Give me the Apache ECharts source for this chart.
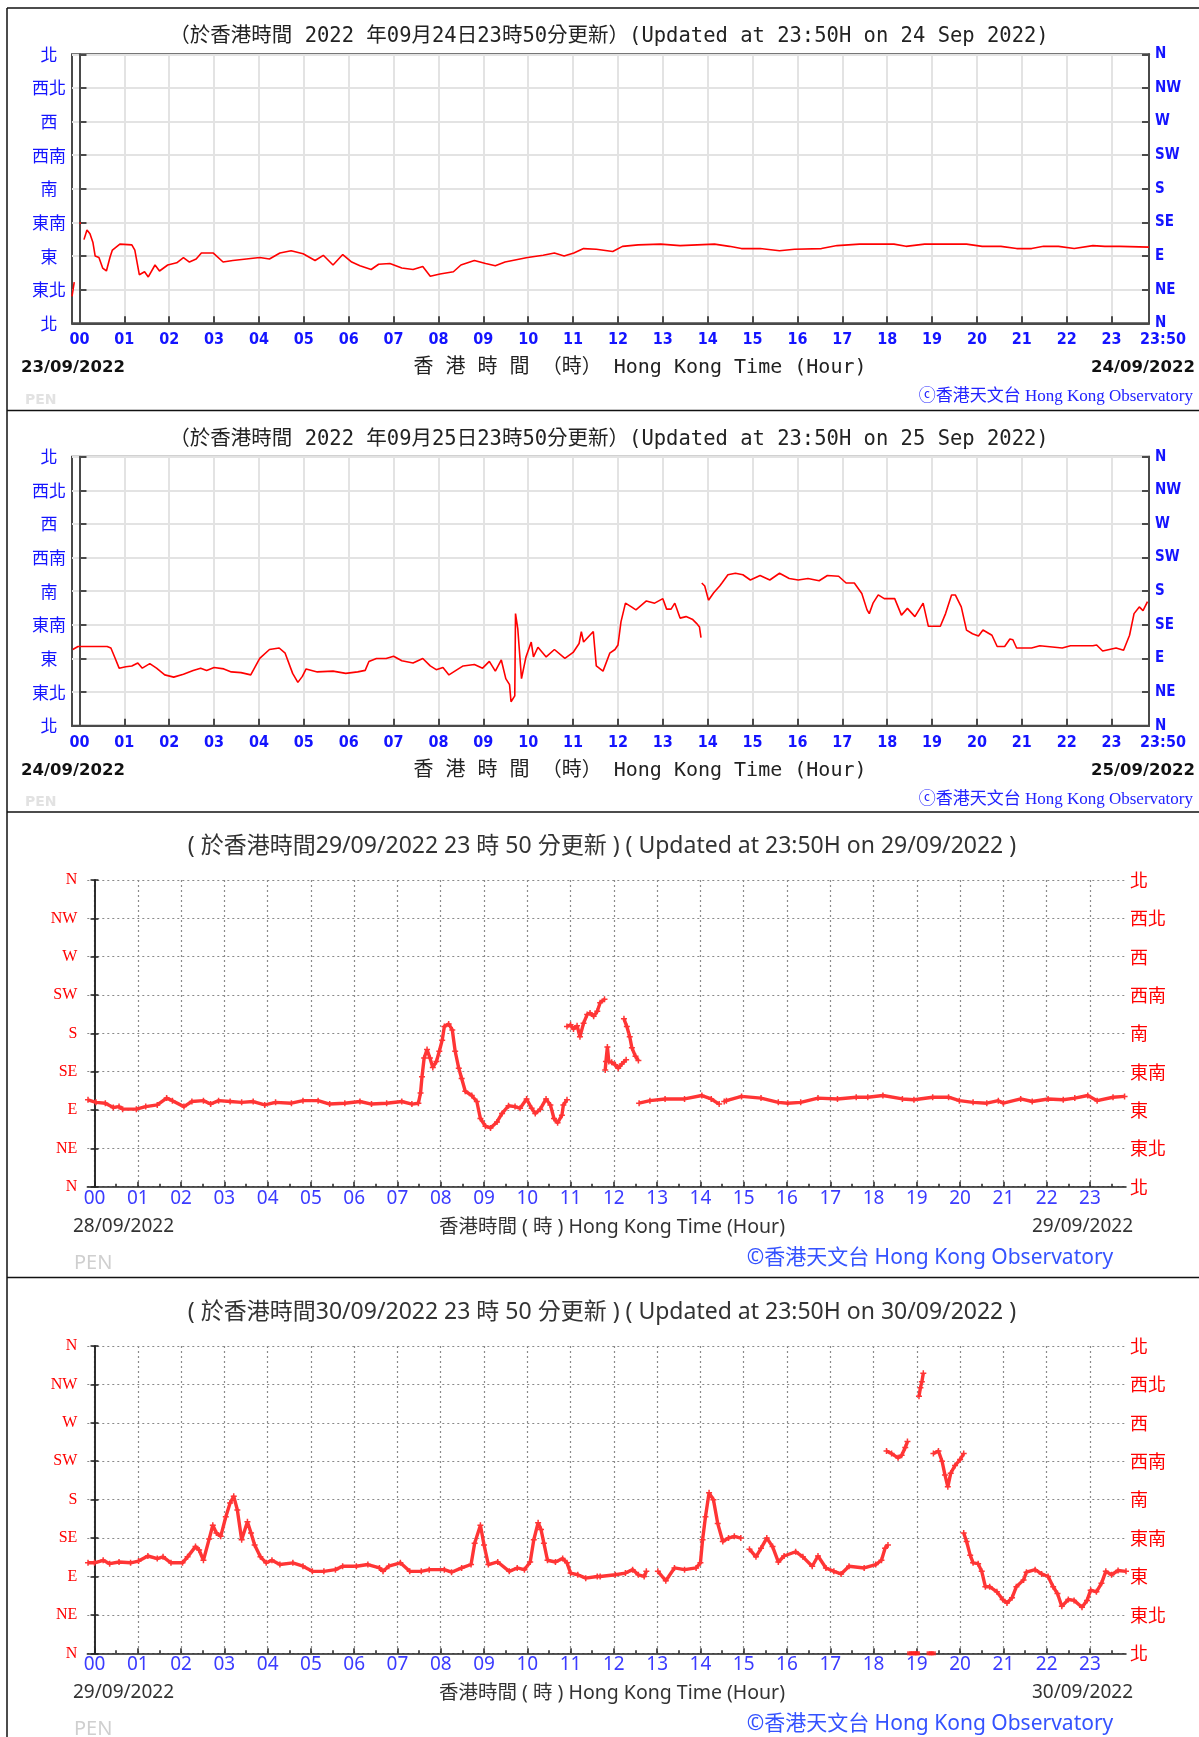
<!DOCTYPE html>
<html><head><meta charset="utf-8">
<script src="https://cdn.jsdelivr.net/npm/echarts/dist/echarts.min.js"></script>
<style>html,body{margin:0;padding:0;background:#fff}#c{width:1199px;height:1737px}</style>
</head><body><div id="c"></div><script>
// ---------- DATA ----------
const hourLabels = ['00','01','02','03','04','05','06','07','08','09','10','11','12','13','14','15','16','17','18','19','20','21','22','23'];
const hourTicks = [0,60,120,180,240,300,360,420,480,540,600,660,720,780,840,900,960,1020,1080,1140,1200,1260,1320,1380];
const halfTicks = [30,90,150,210,270,330,390,450,510,570,630,690,750,810,870,930,990,1050,1110,1170,1230,1290,1350,1410];
const dirEn = ['N','NE','E','SE','S','SW','W','NW','N'];
const dirZh = ['北','東北','東','東南','南','西南','西','西北','北'];

// [minute of day, direction in degrees]; null = no data
const wind0924 = [[-10,36],[-7,55],[-5,null],[0,134],[2,134],[4,null],[6,112],[10,125],[14,120],[18,108],[21,90],[26,88],[31,74],[36,70],[41,89],[44,98],[54,106],[70,105],[74,98],[80,65],[87,69],[92,62],[101,78],[107,70],[118,78],[130,81],[139,88],[147,82],[156,86],[163,94],[179,94],[192,82],[205,84],[223,86],[241,88],[254,86],[268,94],[283,97],[299,93],[315,84],[326,91],[339,78],[352,92],[364,82],[375,77],[390,72],[400,79],[415,80],[431,74],[446,72],[459,76],[469,63],[482,66],[500,69],[510,78],[528,84],[543,80],[556,77],[569,82],[584,85],[599,88],[620,91],[635,94],[648,90],[661,94],[674,100],[691,99],[713,96],[726,103],[747,105],[777,106],[803,104],[849,106],[869,103],[885,100],[910,100],[936,97],[956,99],[992,100],[1013,104],[1043,106],[1089,106],[1105,103],[1130,106],[1156,106],[1186,106],[1207,103],[1232,103],[1253,100],[1273,100],[1289,103],[1309,103],[1330,100],[1355,104],[1371,103],[1391,103],[1430,102]];

const wind0925 = [[-9,102],[-2,106],[37,106],[42,104],[47,92],[53,77],[62,79],[70,80],[78,84],[84,77],[94,83],[103,77],[114,68],[126,65],[139,69],[152,74],[162,77],[170,74],[180,78],[193,76],[203,72],[216,71],[229,68],[235,79],[241,90],[254,102],[267,104],[275,97],[285,70],[292,58],[298,66],[303,76],[318,72],[339,73],[356,70],[372,72],[382,74],[387,86],[397,90],[410,90],[420,93],[431,87],[446,84],[459,90],[469,80],[477,75],[486,78],[494,68],[505,75],[513,80],[528,82],[539,77],[548,86],[556,73],[564,88],[570,63],[575,55],[577,32],[582,40],[583,150],[586,130],[591,63],[597,92],[604,112],[607,92],[613,105],[624,92],[635,102],[649,90],[660,98],[668,110],[671,126],[674,112],[687,126],[689,103],[691,80],[700,73],[709,97],[716,102],[720,108],[724,139],[730,164],[738,159],[744,155],[758,167],[769,164],[780,170],[785,156],[791,156],[796,164],[803,144],[811,146],[820,142],[825,137],[829,132],[831,118],[831.5,null],[832,191],[836,187],[841,168],[848,178],[856,187],[859,191],[867,202],[877,204],[887,202],[897,195],[910,201],[923,195],[936,204],[949,197],[961,195],[974,197],[989,194],[1000,201],[1015,200],[1025,191],[1036,191],[1046,177],[1053,155],[1056,150],[1061,164],[1068,175],[1076,170],[1090,170],[1099,148],[1107,157],[1117,146],[1128,164],[1135,133],[1151,133],[1158,150],[1166,175],[1171,175],[1179,159],[1186,128],[1194,123],[1202,120],[1208,128],[1220,121],[1227,106],[1237,106],[1244,116],[1248,115],[1253,104],[1273,104],[1284,107],[1314,104],[1325,107],[1355,107],[1360,108],[1368,100],[1386,104],[1396,101],[1404,121],[1410,150],[1417,159],[1422,154],[1428,166]];

const wind0929 = [[-9,102],[2,99],[15,98],[26,93],[34,94],[39,91],[58,91],[71,94],[87,96],[100,104],[108,101],[124,94],[135,100],[151,101],[161,97],[172,101],[188,100],[204,99],[220,100],[236,96],[251,99],[273,98],[289,101],[310,101],[326,97],[347,98],[368,100],[384,97],[405,98],[426,100],[440,97],[449,98],[452,110],[454,129],[457,151],[461,161],[465,151],[469,140],[474,147],[478,159],[482,172],[485,188],[491,191],[496,184],[500,159],[505,139],[509,127],[514,112],[523,107],[530,100],[535,80],[542,71],[549,69],[558,76],[565,86],[574,95],[583,94],[590,92],[599,103],[606,92],[611,86],[618,91],[626,103],[632,96],[637,80],[642,75],[648,84],[650,96],[655,102],[655.5,null],
 [655,188],[660,190],[664,185],[669,189],[673,176],[678,192],[683,202],[687,204],[692,200],[697,206],[701,216],[707,220],[707.5,null],
 [708,137],[709,147],[711,164],[713,147],[717,146],[722,143],[726,139],[731,144],[737,149],[737.5,null],
 [734,197],[738,188],[742,176],[745,163],[750,153],[754,148],[754.5,null],
 [755,98],[770,101],[791,103],[818,103],[842,107],[855,103],[866,97],[869,null],[873,100],[876,101],[897,106],[924,104],[948,99],[961,98],[979,99],[1003,104],[1030,103],[1056,105],[1072,105],[1093,107],[1120,103],[1136,102],[1162,105],[1184,105],[1199,101],[1218,99],[1237,98],[1253,101],[1260,98],[1284,103],[1300,100],[1322,103],[1343,102],[1359,104],[1377,107],[1390,101],[1412,105],[1428,106]];

const wind0930 = [[-9,106],[0,106],[12,109],[21,105],[34,107],[50,106],[61,108],[74,114],[87,111],[95,113],[106,106],[122,106],[129,113],[140,125],[145,121],[151,109],[159,134],[164,150],[169,141],[175,137],[182,160],[188,176],[193,184],[198,168],[204,133],[212,154],[217,141],[222,127],[230,113],[238,106],[246,109],[257,104],[275,106],[289,102],[302,96],[318,96],[334,98],[344,102],[363,102],[379,104],[395,100],[400,96],[408,102],[424,106],[437,96],[453,96],[464,98],[485,98],[495,95],[509,100],[522,104],[527,129],[535,150],[540,127],[546,104],[559,107],[575,96],[586,100],[596,98],[604,107],[609,133],[615,153],[619,145],[623,129],[628,109],[639,107],[649,111],[655,106],[660,94],[670,92],[681,88],[697,90],[701,90],[722,92],[736,94],[746,98],[754,92],[762,90],[765,96],[769,null],
 [781,96],[792,85],[804,100],[818,98],[834,100],[840,106],[843,133],[847,160],[852,188],[858,180],[864,152],[871,131],[879,135],[887,137],[896,135],[902,null],
 [908,122],[917,113],[924,123],[932,135],[940,125],[948,107],[956,114],[972,119],[982,113],[995,102],[1003,114],[1014,100],[1025,96],[1035,93],[1046,102],[1067,100],[1083,104],[1091,109],[1096,123],[1100,127],[1101,null],
 [1098,237],[1105,234],[1114,229],[1119,232],[1124,241],[1127,248],[1130,null],
 [1143,301],[1145,311],[1147,318],[1149,328],[1152,null],
 [1163,234],[1170,237],[1175,225],[1179,209],[1183,195],[1187,211],[1193,220],[1200,227],[1205,234],[1206,null],
 [1205,141],[1209,131],[1214,115],[1218,106],[1225,105],[1230,96],[1235,78],[1241,78],[1251,72],[1259,63],[1265,59],[1272,65],[1278,78],[1288,86],[1292,95],[1304,98],[1313,93],[1322,90],[1329,78],[1335,70],[1341,55],[1350,63],[1358,62],[1369,54],[1376,62],[1381,74],[1389,72],[1396,82],[1402,96],[1410,92],[1419,97],[1430,96]];
const calm0930 = [[1130,0],[1133,0],[1136,0],[1139,0],[1141,0],[1157,0],[1160,0],[1163,0]];

const titles = [
  '（於香港時間 2022 年09月24日23時50分更新）(Updated at 23:50H on 24 Sep 2022)',
  '（於香港時間 2022 年09月25日23時50分更新）(Updated at 23:50H on 25 Sep 2022)',
  '( 於香港時間29/09/2022 23 時 50 分更新 ) ( Updated at 23:50H on 29/09/2022 )',
  '( 於香港時間30/09/2022 23 時 50 分更新 ) ( Updated at 23:50H on 30/09/2022 )'
];
const datesL = ['23/09/2022','24/09/2022','28/09/2022','29/09/2022'];
const datesR = ['24/09/2022','25/09/2022','29/09/2022','30/09/2022'];
const axisNameA = '香 港 時 間 （時） Hong Kong Time (Hour)';
const axisNameB = '香港時間 ( 時 ) Hong Kong Time (Hour)';
const obsA = 'ⓒ香港天文台 Hong Kong Observatory';
const obsB = '©香港天文台 Hong Kong Observatory';
const station = 'PEN';

// ---------- CHART ----------
const fix = arr => arr.map(p => [p[0], p[1] == null ? '-' : p[1]]);
const BLUE = '#1414ff', RED = '#ff0000', PRED = '#ff3535';
const CJK = '"Noto Sans CJK TC"';
const PLUS = 'path://M3,0H5V3H8V5H5V8H3V5H0V3H3Z';
const GRIDA = '#e3e3e3';

const grids = [
  {left:72, right:50, top:54.3, height:269},
  {left:72, right:50, top:456.7, height:269},
  {left:87.3, right:73, top:880, height:306.7},
  {left:87.3, right:73, top:1346, height:307.3}
];
const xAxes = [], yAxes = [], series = [], gridOpts = [];
const dataSets = [wind0924, wind0925, wind0929, wind0930];

grids.forEach((g, i) => {
  const A = i < 2;
  gridOpts.push(Object.assign({show: A, borderColor:'#4a4a4a', borderWidth:2, backgroundColor:'transparent'}, g));
  const xi = xAxes.length, yi = yAxes.length;
  if (A) {
    xAxes.push({gridIndex:i, type:'value', min:-10, max:1430,
      axisLine:{show:true, lineStyle:{color:'#4a4a4a', width:2}},
      axisTick:{show:true, inside:true, length:7, customValues:hourTicks, lineStyle:{color:'#4a4a4a', width:2}},
      axisLabel:{customValues:hourTicks.concat([1430]), margin:9,
        formatter: v => v === 1430 ? '{e|23:50}' : hourLabels[Math.round(v/60)],
        color:BLUE, fontWeight:'bold', fontSize:16, fontFamily:'"DejaVu Sans Condensed","DejaVu Sans"',
        rich:{e:{padding:[0,0,0,28], color:BLUE, fontWeight:'bold', fontSize:16, fontFamily:'"DejaVu Sans Condensed","DejaVu Sans"'}}},
      splitLine:{show:true, lineStyle:{color:GRIDA, width:2}}});
    yAxes.push({gridIndex:i, type:'value', min:0, max:360, interval:45, position:'left',
      axisLine:{show:true, lineStyle:{color:'#4a4a4a', width:2}},
      axisTick:{show:true, inside:true, length:7, lineStyle:{color:'#4a4a4a', width:2}},
      axisLabel:{formatter: v => dirZh[Math.round(v/45)], color:BLUE, fontSize:17, fontFamily:CJK, align:'center', margin:23},
      splitLine:{show:true, lineStyle:{color:GRIDA, width:2}}});
    yAxes.push({gridIndex:i, type:'value', min:0, max:360, interval:45, position:'right',
      axisLine:{show:true, lineStyle:{color:'#4a4a4a', width:2}},
      axisTick:{show:true, inside:true, length:7, lineStyle:{color:'#4a4a4a', width:2}},
      axisLabel:{formatter: v => dirEn[Math.round(v/45)], color:BLUE, fontSize:15, fontWeight:'bold', fontFamily:'"DejaVu Sans Condensed","DejaVu Sans"', margin:6},
      splitLine:{show:false}});
    series.push({type:'line', xAxisIndex:xi, yAxisIndex:yi, data:fix(dataSets[i]), showSymbol:false,
      connectNulls:false, lineStyle:{color:RED, width:1.6}, animation:false, silent:true});
  } else {
    xAxes.push({gridIndex:i, type:'value', min:-10, max:1430, position:'bottom',
      axisLine:{show:true, lineStyle:{color:'#222', width:1.5}},
      axisTick:{show:true, inside:true, length:5, customValues:hourTicks, lineStyle:{color:'#222', width:1.5}},
      axisLabel:{customValues:hourTicks, margin:2, formatter: v => hourLabels[Math.round(v/60)],
        color:'#3b3bff', fontSize:19, fontFamily:'"Noto Sans","Open Sans"'},
      splitLine:{show:true, lineStyle:{color:'#8a8a8a', width:1.2, type:[2,3]}}});
    xAxes.push({gridIndex:i, type:'value', min:-10, max:1430, position:'bottom',
      axisLine:{show:false},
      axisTick:{show:true, inside:true, length:3, customValues:halfTicks, lineStyle:{color:'#222', width:1.5}},
      axisLabel:{show:false}, splitLine:{show:false}});
    yAxes.push({gridIndex:i, type:'value', min:0, max:360, interval:45, position:'left',
      axisLine:{show:true, lineStyle:{color:'#222', width:1.5}},
      axisTick:{show:true, inside:true, length:4, lineStyle:{color:'#222', width:1.5}},
      axisLabel:{formatter: v => dirEn[Math.round(v/45)], color:RED, fontSize:16, fontFamily:'"Liberation Serif","DejaVu Serif"', margin:10},
      splitLine:{show:true, lineStyle:{color:'#8a8a8a', width:1.2, type:[2,3]}}});
    yAxes.push({gridIndex:i, type:'value', min:0, max:360, interval:45, position:'right',
      axisLine:{show:true, lineStyle:{color:'#222', width:1.5}},
      axisTick:{show:true, inside:true, length:4, lineStyle:{color:'#222', width:1.5}},
      axisLabel:{formatter: v => dirZh[Math.round(v/45)], color:RED, fontSize:18, fontFamily:CJK, margin:4},
      splitLine:{show:false}});
    series.push({type:'line', xAxisIndex:xi, yAxisIndex:yi, data:fix(dataSets[i]),
      symbol:PLUS, symbolSize:6, showSymbol:true, showAllSymbol:true, connectNulls:false,
      itemStyle:{color:PRED}, lineStyle:{color:PRED, width:3.4}, animation:false, silent:true});
    if (i === 3) {
      series.push({type:'scatter', xAxisIndex:xi, yAxisIndex:yi, data:calm0930, symbol:'rect',
        symbolSize:[5,4], itemStyle:{color:'#ff2020'}, animation:false, silent:true});
    }
  }
});

// ---------- TEXT / FRAME ----------
const graphic = [];
function txt(text, x, y, align, size, family, fill, weight) {
  graphic.push({type:'text', x:x, y:y, silent:true, z:10,
    style:{text:text, fontSize:size, fontFamily:family, fontWeight:weight||'normal', fill:fill,
      align:align, textAlign:align, verticalAlign:'middle', textVerticalAlign:'middle'}});
}
function ln(x1,y1,x2,y2){ graphic.push({type:'line', silent:true, z:10, shape:{x1,y1,x2,y2}, style:{stroke:'#111', lineWidth:1.5}}); }
ln(7,8,7,1737); ln(7,8,1199,8); ln(7,410.5,1199,410.5); ln(7,812,1199,812); ln(7,1277.5,1199,1277.5);

const MONO = '"DejaVu Sans Mono",' + CJK;
[0, 402.5].forEach((dy, i) => {
  txt(titles[i], 609, 37 + dy, 'center', 20.5, MONO, '#222');
  txt(datesL[i], 21, 368 + dy, 'left', 16.5, '"DejaVu Sans"', '#111', 'bold');
  txt(datesR[i], 1195, 368 + dy, 'right', 16.5, '"DejaVu Sans"', '#111', 'bold');
  txt(axisNameA, 640, 368 + dy, 'center', 20, MONO, '#222');
  txt(station, 25, 400 + dy, 'left', 14, '"DejaVu Sans"', '#e2e2e2', 'bold');
  txt(obsA, 1193, 397 + dy, 'right', 17, '"Liberation Serif","DejaVu Serif",' + CJK, '#2222ff');
});
const SANS = '"Noto Sans",' + CJK;
[0, 466].forEach((dy, k) => {
  const i = k + 2;
  txt(titles[i], 602, 846 + dy, 'center', 23, SANS, '#333');
  txt(datesL[i], 73, 1227 + dy, 'left', 19, SANS, '#333');
  txt(axisNameB, 612, 1227 + dy, 'center', 19.5, SANS, '#333');
  txt(datesR[i], 1133, 1227 + dy, 'right', 19, SANS, '#333');
  txt(station, 74, 1263 + dy, 'left', 20, SANS, '#cfcfcf');
  txt(obsB, 930, 1258 + dy, 'center', 21, SANS, '#3452ff');
});

const chart = echarts.init(document.getElementById('c'), null, {renderer:'canvas'});
chart.setOption({animation:false, backgroundColor:'#fff', grid:gridOpts, xAxis:xAxes, yAxis:yAxes, series:series, graphic:graphic});
</script></body></html>
